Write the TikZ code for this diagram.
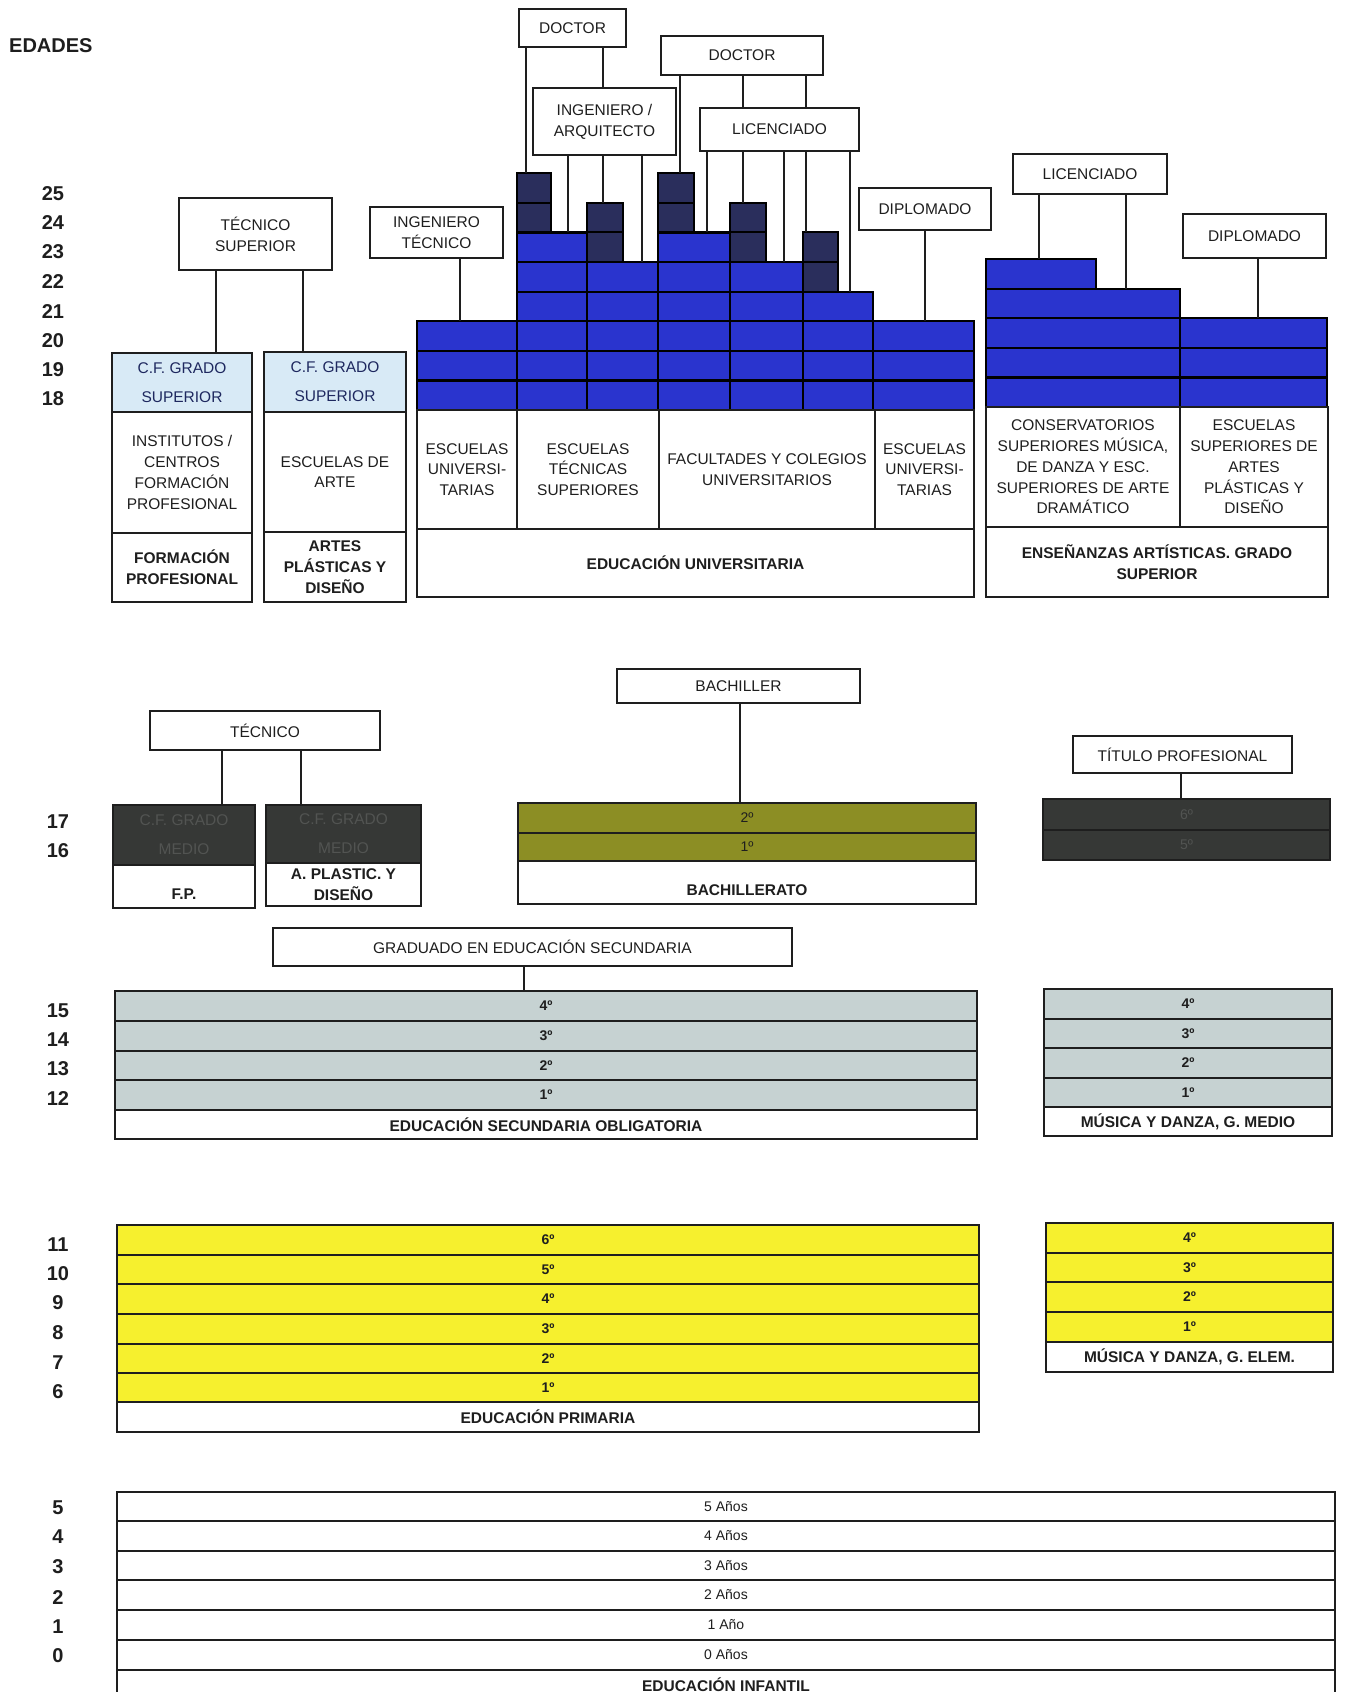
\documentclass[tikz,border=0pt]{standalone}
\usepackage{fontspec}
\setmainfont{Liberation Sans}
\definecolor{ublue}{RGB}{42,52,206}
\definecolor{navyd}{RGB}{42,46,92}
\definecolor{lblue}{RGB}{216,234,246}
\definecolor{navytxt}{RGB}{30,40,95}
\definecolor{dgrey}{RGB}{54,56,54}
\definecolor{dgtxt}{RGB}{82,84,82}
\definecolor{bachol}{RGB}{140,142,36}
\definecolor{esog}{RGB}{198,210,210}
\definecolor{primy}{RGB}{246,240,46}
\definecolor{txt}{RGB}{30,30,30}
\newcommand\lab{\fontsize{15.5}{20.8}\selectfont}
\newcommand\labb{\fontsize{15.5}{20.8}\selectfont\bfseries}
\newcommand\labc{\fontsize{15.5}{29}\selectfont}
\newcommand\agef{\fontsize{20}{24}\selectfont\bfseries}
\newcommand\ordf{\fontsize{14}{16}\selectfont\bfseries}
\newcommand\ordr{\fontsize{14}{16}\selectfont}
\newcommand\Rct[7][]{\node[rb,#1,minimum width={(#5-#3)*1pt},minimum height={(#6-#4)*1pt}] (#2) at ({(#3+#5)/2},{(#4+#6)/2}) {#7};}
\newcommand\Bcol[7]{%
 \foreach \a in {#4,...,#5}{%
  \pgfmathsetmacro\yt{#7-(\a-17)*29.6}%
  \pgfmathsetmacro\yb{#7-(\a-18)*29.6}%
  \Rct[#6]{#1-\a}{#2}{\yt}{#3}{\yb}{}%
 }}
\tikzset{
 rb/.style={draw=txt, line width=1.6pt, inner sep=0pt, outer sep=0pt, align=center, font=\lab, text=txt, fill=white},
 bcell/.style={fill=ublue, draw=black, line width=2.2pt},
 dcell/.style={fill=navyd, draw=black, line width=2pt},
 lbl/.style={fill=lblue, font=\labc, text=navytxt},
 cfm/.style={fill=dgrey, font=\labc, text=dgtxt},
 boldl/.style={font=\labb},
 oliv/.style={fill=bachol, font=\ordr, text=txt, line width=2.2pt},
 esor/.style={fill=esog, font=\ordf, line width=2.2pt},
 primr/.style={fill=primy, font=\ordf, line width=2.2pt},
 tprow/.style={fill=dgrey, font=\ordr, text=dgtxt, line width=2.2pt},
 infr/.style={font=\ordr, line width=2pt},
 conn/.style={draw=txt, line width=1.5pt},
 agel/.style={font=\agef, text=txt, inner sep=0pt},
}
\begin{document}
\begin{tikzpicture}[x=1pt,y=-1pt]
\clip (0,0) rectangle (1344,1692);
\fill[white] (0,0) rectangle (1344,1692);
% ---- title
\node[font=\agef, text=txt, anchor=west, inner sep=0pt] (edades) at (9,46) {EDADES};
% ---- age labels
\foreach \a/\y in {25/194,24/223,23/252,22/282,21/312,20/341,19/370,18/399}{\node[agel] (age\a) at (53,\y) {\a};}
\foreach \a/\y in {17/822,16/851,15/1011,14/1040,13/1069,12/1099,11/1245,10/1274,9/1303,8/1333,7/1363,6/1392,5/1508,4/1537,3/1567,2/1597,1/1627,0/1656}{\node[agel] (age\a) at (58,\y) {\a};}
% ---- top title boxes
\Rct{doc1}{519}{9}{626}{47}{DOCTOR}
\Rct{doc2}{661}{36}{823}{75}{DOCTOR}
\Rct{ingarq}{533}{88}{676}{155}{INGENIERO /\\ARQUITECTO}
\Rct{lic1}{700}{108}{859}{151}{LICENCIADO}
\Rct{tecsup}{179}{198}{332}{270}{TÉCNICO\\SUPERIOR}
\Rct{ingtec}{370}{207}{503}{258}{INGENIERO\\TÉCNICO}
\Rct{dip1}{859}{188}{991}{230}{DIPLOMADO}
\Rct{lic2}{1013}{154}{1167}{194}{LICENCIADO}
\Rct{dip2}{1183}{214}{1326}{258}{DIPLOMADO}
% ---- blue grid (university)
\Bcol{uA}{417}{517}{18}{20}{bcell}{410}
\Bcol{cA}{517}{587}{18}{23}{bcell}{410}
\Bcol{dA}{517}{551}{24}{25}{dcell}{410}
\Bcol{cB}{587}{658}{18}{22}{bcell}{410}
\Bcol{dB}{587}{623}{23}{24}{dcell}{410}
\Bcol{cC}{658}{730}{18}{23}{bcell}{410}
\Bcol{dC}{658}{694}{24}{25}{dcell}{410}
\Bcol{cD}{730}{803}{18}{22}{bcell}{410}
\Bcol{dD}{730}{766}{23}{24}{dcell}{410}
\Bcol{cE}{803}{873}{18}{21}{bcell}{410}
\Bcol{dE}{803}{838}{22}{23}{dcell}{410}
\Bcol{uB}{873}{974}{18}{20}{bcell}{410}
% ---- blue grid (artistic)
\Bcol{cons}{986}{1180}{18}{21}{bcell}{407}
\Bcol{consx}{986}{1096}{22}{22}{bcell}{407}
\Bcol{eapd}{1180}{1327}{18}{20}{bcell}{407}
% ---- university lower cells
\Rct{euc1}{417}{410}{517}{529}{ESCUELAS\\UNIVERSI-\\TARIAS}
\Rct{etsc}{517}{410}{659}{529}{ESCUELAS\\TÉCNICAS\\SUPERIORES}
\Rct{facc}{659}{410}{875}{529}{FACULTADES Y COLEGIOS\\UNIVERSITARIOS}
\Rct{euc2}{875}{410}{974}{529}{ESCUELAS\\UNIVERSI-\\TARIAS}
\Rct[boldl]{eul}{417}{529}{974}{597}{EDUCACIÓN UNIVERSITARIA}
% ---- artistic lower cells
\Rct{consc}{986}{407}{1180}{527}{CONSERVATORIOS\\SUPERIORES MÚSICA,\\DE DANZA Y ESC.\\SUPERIORES DE ARTE\\DRAMÁTICO}
\Rct{eapdc}{1180}{407}{1328}{527}{ESCUELAS\\SUPERIORES DE\\ARTES\\PLÁSTICAS Y\\DISEÑO}
\Rct[boldl]{eal}{986}{527}{1328}{597}{ENSEÑANZAS ARTÍSTICAS. GRADO\\SUPERIOR}
% ---- FP and Artes superior
\Rct[lbl]{cfs1}{112}{353}{252}{412}{C.F. GRADO\\SUPERIOR}
\Rct{fpc}{112}{412}{252}{533}{INSTITUTOS /\\CENTROS\\FORMACIÓN\\PROFESIONAL}
\Rct[boldl]{fpl}{112}{533}{252}{602}{FORMACIÓN\\PROFESIONAL}
\Rct[lbl]{cfs2}{264}{352}{406}{412}{C.F. GRADO\\SUPERIOR}
\Rct{artc}{264}{412}{406}{532}{ESCUELAS DE\\ARTE}
\Rct[boldl]{artl}{264}{532}{406}{602}{ARTES\\PLÁSTICAS Y\\DISEÑO}
% ---- top connectors
\draw[conn] (216,0 |- tecsup.south) -- (216,0 |- cfs1.north);
\draw[conn] (303,0 |- tecsup.south) -- (303,0 |- cfs2.north);
\draw[conn] (460,0 |- ingtec.south) -- (460,0 |- uA-20.north);
\draw[conn] (526,0 |- doc1.south) -- (526,0 |- dA-25.north);
\draw[conn] (603,0 |- doc1.south) -- (603,0 |- ingarq.north);
\draw[conn] (568,0 |- ingarq.south) -- (568,0 |- cA-23.north);
\draw[conn] (603,0 |- ingarq.south) -- (603,0 |- dB-24.north);
\draw[conn] (642,0 |- ingarq.south) -- (642,0 |- cB-22.north);
\draw[conn] (680,0 |- doc2.south) -- (680,0 |- dC-25.north);
\draw[conn] (743,0 |- doc2.south) -- (743,0 |- lic1.north);
\draw[conn] (806,0 |- doc2.south) -- (806,0 |- lic1.north);
\draw[conn] (707,0 |- lic1.south) -- (707,0 |- cC-23.north);
\draw[conn] (743,0 |- lic1.south) -- (743,0 |- dD-24.north);
\draw[conn] (784,0 |- lic1.south) -- (784,0 |- cD-22.north);
\draw[conn] (806,0 |- lic1.south) -- (806,0 |- dE-23.north);
\draw[conn] (850,0 |- lic1.south) -- (850,0 |- cE-21.north);
\draw[conn] (925,0 |- dip1.south) -- (925,0 |- uB-20.north);
\draw[conn] (1039,0 |- lic2.south) -- (1039,0 |- consx-22.north);
\draw[conn] (1126,0 |- lic2.south) -- (1126,0 |- cons-21.north);
\draw[conn] (1258,0 |- dip2.south) -- (1258,0 |- eapd-20.north);
% ---- middle section
\Rct{tecnico}{150}{711}{380}{750}{TÉCNICO}
\Rct[cfm]{cfm1}{113}{805}{255}{865}{C.F. GRADO\\MEDIO}
\Rct{fpm}{113}{865}{255}{908}{}
\node[font=\labb, text=txt] (fpmt) at ([yshift=-8pt]fpm.center) {F.P.};
\Rct[cfm]{cfm2}{266}{805}{421}{863}{C.F. GRADO\\MEDIO}
\Rct[boldl]{apm}{266}{863}{421}{906}{A. PLASTIC. Y\\DISEÑO}
\Rct{bachiller}{617}{669}{860}{703}{BACHILLER}
\Rct[oliv]{bach2}{518}{803}{976}{833}{2º}
\Rct[oliv]{bach1}{518}{833}{976}{861}{1º}
\Rct{bachl}{518}{861}{976}{904}{}
\node[font=\labb, text=txt] (bachlt) at ([yshift=-8pt]bachl.center) {BACHILLERATO};
\Rct{titulo}{1073}{736}{1292}{773}{TÍTULO PROFESIONAL}
\Rct[tprow]{tp6}{1043}{799}{1330}{830}{6º}
\Rct[tprow]{tp5}{1043}{830}{1330}{860}{5º}
\draw[conn] (222,0 |- tecnico.south) -- (222,0 |- cfm1.north);
\draw[conn] (301,0 |- tecnico.south) -- (301,0 |- cfm2.north);
\draw[conn] (740,0 |- bachiller.south) -- (740,0 |- bach2.north);
\draw[conn] (1181,0 |- titulo.south) -- (1181,0 |- tp6.north);
% ---- ESO
\Rct{graduado}{273}{928}{792}{966}{GRADUADO EN EDUCACIÓN SECUNDARIA}
\Rct[esor]{eso4}{115}{991}{977}{1021}{4º}
\Rct[esor]{eso3}{115}{1021}{977}{1051}{3º}
\Rct[esor]{eso2}{115}{1051}{977}{1080}{2º}
\Rct[esor]{eso1}{115}{1080}{977}{1110}{1º}
\Rct[boldl]{esol}{115}{1110}{977}{1139}{EDUCACIÓN SECUNDARIA OBLIGATORIA}
\draw[conn] (524,0 |- graduado.south) -- (524,0 |- eso4.north);
\Rct[esor]{mdm4}{1044}{989}{1332}{1019}{4º}
\Rct[esor]{mdm3}{1044}{1019}{1332}{1048}{3º}
\Rct[esor]{mdm2}{1044}{1048}{1332}{1078}{2º}
\Rct[esor]{mdm1}{1044}{1078}{1332}{1107}{1º}
\Rct[boldl]{mdml}{1044}{1107}{1332}{1136}{MÚSICA Y DANZA, G. MEDIO}
% ---- Primaria
\Rct[primr]{pr6}{117}{1225}{979}{1255}{6º}
\Rct[primr]{pr5}{117}{1255}{979}{1284}{5º}
\Rct[primr]{pr4}{117}{1284}{979}{1314}{4º}
\Rct[primr]{pr3}{117}{1314}{979}{1344}{3º}
\Rct[primr]{pr2}{117}{1344}{979}{1373}{2º}
\Rct[primr]{pr1}{117}{1373}{979}{1402}{1º}
\Rct[boldl]{prl}{117}{1402}{979}{1432}{EDUCACIÓN PRIMARIA}
\Rct[primr]{mde4}{1046}{1223}{1333}{1253}{4º}
\Rct[primr]{mde3}{1046}{1253}{1333}{1282}{3º}
\Rct[primr]{mde2}{1046}{1282}{1333}{1312}{2º}
\Rct[primr]{mde1}{1046}{1312}{1333}{1342}{1º}
\Rct[boldl]{mdel}{1046}{1342}{1333}{1372}{MÚSICA Y DANZA, G. ELEM.}
% ---- Infantil
\Rct[infr]{in5}{117}{1492}{1335}{1521}{5 Años}
\Rct[infr]{in4}{117}{1521}{1335}{1551}{4 Años}
\Rct[infr]{in3}{117}{1551}{1335}{1580}{3 Años}
\Rct[infr]{in2}{117}{1580}{1335}{1610}{2 Años}
\Rct[infr]{in1}{117}{1610}{1335}{1640}{1 Año}
\Rct[infr]{in0}{117}{1640}{1335}{1670}{0 Años}
\Rct[boldl,line width=2pt]{inl}{117}{1670}{1335}{1700}{EDUCACIÓN INFANTIL}
\end{tikzpicture}
\end{document}
